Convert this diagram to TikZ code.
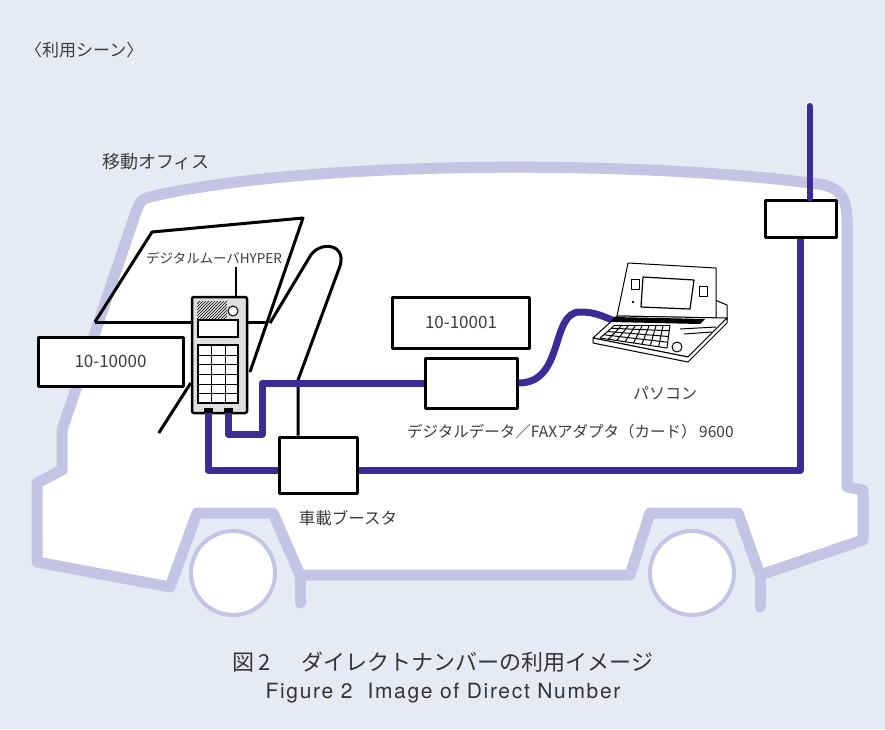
\documentclass[tikz,border=0pt]{standalone}
\usepackage{fontspec}
\setmainfont{Noto Sans CJK JP}
\newfontfamily\heros[LetterSpace=8]{TeX Gyre Heros}
\usetikzlibrary{positioning,patterns}

\definecolor{paper}{RGB}{231,233,245}
\definecolor{vanline}{RGB}{198,196,228}
\definecolor{cablecol}{RGB}{59,44,152}
\definecolor{ink}{RGB}{60,60,60}

\tikzset{
  van/.style={draw=vanline, line width=11pt, line join=round, line cap=round},
  cable/.style={draw=cablecol, line width=7pt, line join=round},
  frame/.style={draw=black, line width=3pt, line join=round},
  unit/.style={frame, fill=white, inner sep=0pt},
  jack/.style={fill=black, minimum width=9pt, minimum height=5pt, inner sep=0pt},
  lbl/.style={text=ink, inner sep=0pt},
}

\begin{document}
\begin{tikzpicture}[x=1pt,y=-1pt]
  \fill[paper] (0,0) rectangle (885,729);
  \useasboundingbox (0,0) rectangle (885,729);

  % van body
  \path[van, fill=white] (62,430) -- (136,212) .. controls (141,199) .. (158,195)
     .. controls (320,160) and (640,160) .. (818,184)
     .. controls (842,187) and (847,200) .. (847,222)
     -- (847,487) -- (863,490) -- (863,540) -- (760,575) -- (738,513) -- (650,513) -- (630,575)
     -- (300,575) -- (273,513) -- (197,513) -- (170,587) -- (37,562) -- (37,483) -- (62,470) -- cycle;
  \draw[van] (300,575) -- (300,603);
  \draw[van] (760,575) -- (760,607);
  \draw[draw=vanline, line width=4pt, fill=white] (233,573) circle[radius=42];
  \draw[draw=vanline, line width=4pt, fill=white] (692,573) circle[radius=42];

  % units
  \node[unit, minimum width=145pt, minimum height=49pt, font=\fontsize{17}{20}\selectfont, text=ink] (num1) at (110.5,361.5) {10-10000};
  \node[unit, minimum width=137pt, minimum height=51pt, font=\fontsize{17}{20}\selectfont, text=ink] (num2) at (461,322.5) {10-10001};
  \node[unit, minimum width=92pt, minimum height=50pt] (adapter) at (471,383) {};
  \node[unit, minimum width=78pt, minimum height=56pt] (booster) at (318,465) {};
  \node[unit, minimum width=71pt, minimum height=37pt] (antbox) at (800.5,218.5) {};
  \coordinate (anttip) at (809.5,106);
  \coordinate (bend) at (262,434);
  \coordinate (lapjack) at (618,322);

  % dashboard and seat
  \draw[frame] (95,322) -- (152,232) -- (303,218) -- (250,372);
  \draw[frame] (95,322) -- (268,322);
  \draw[frame] (270,323) -- (309,258) .. controls (318,240) and (347,243) .. (340,266)
     -- (298,380) -- ([xshift=-20pt]booster.north);

  % mover
  \node[draw, line width=2.5pt, fill=gray!25, rounded corners=2pt, minimum width=55pt, minimum height=116pt] (mover) at (219.5,355) {};
  \draw[line width=2pt] ([xshift=16.5pt]mover.north) -- ++(0,-29);
  \fill[pattern=north east lines] (197,301) rectangle (227,324);
  \draw[fill=white, line width=1pt] (233,311) circle[radius=5];
  \draw[fill=white, line width=1.2pt] (198,320) rectangle (238,337);
  \draw[fill=white, line width=1.2pt] (198,345) rectangle (238,403);
  \foreach \y in {354.7,364.3,374,383.7,393.3} \draw (198,\y) -- (238,\y);
  \foreach \x in {211.3,224.7} \draw (\x,345) -- (\x,403);
  \node[jack] (jackL) at (208,410) {};
  \node[jack] (jackR) at (228,410) {};
  \draw[frame] ([yshift=-28pt]mover.west) -- ++(-32,50);

  % cables
  \draw[cable] (jackR.south) |- (bend) |- (adapter.west);
  \draw[cable] (jackL.south) |- ([yshift=-5pt]booster.west);
  \draw[cable] ([yshift=-5pt]booster.east) -| (antbox.south);
  \draw[cable, line width=6pt, line cap=round] ([xshift=9pt]antbox.north) -- (anttip);
  \draw[cable] (adapter.east) .. controls (565,383) and (550,312) .. (580,312)
     .. controls (598,312) and (605,318) .. (lapjack);

  % pasokon
  \begin{scope}[line width=1pt, line join=round]
    \draw[fill=white] (715,300) -- (727,305) -- (727,320) -- (716,322) -- cycle;
    \draw[fill=white] (628,263) -- (716,268) -- (716,318) -- (617,316) -- cycle;
    \draw[fill=white, line width=1.2pt] (643,277) -- (694,280) -- (690,309) -- (641,307) -- cycle;
    \draw (631,279) rectangle (639,289);
    \draw (699,286) rectangle (707,296);
    \fill (633,302) circle[radius=1.3];
    \draw[fill=white] (593,338) -- (617,316) -- (727,318) -- (688,357) -- cycle;
    \draw[fill=white] (593,338) -- (593,343) -- (688,362) -- (727,323) -- (727,318) -- (688,357) -- cycle;
    \fill (614,317) -- (705,319) -- (700,324) -- (611,322) -- cycle;
    \foreach \t in {0,0.25,0.5,0.75,1}
      \draw ({615-15*\t},{325+13*\t}) -- ({670-3*\t},{325+23*\t});
    \foreach \s in {0,0.125,...,1}
      \draw ({615+55*\s},325) -- ({600+67*\s},{338+10*\s});
    \draw (677,347) circle[radius=5];
    \draw (680,329) -- (716,327);
    \draw (684,334) -- (712,332);
  \end{scope}

  % labels
  \node[lbl, anchor=west, font=\fontsize{17}{20}\selectfont] (scene) at (25,50) {〈利用シーン〉};
  \node[lbl, anchor=west, font=\fontsize{18}{21}\selectfont] (office) at (102,162) {移動オフィス};
  \node[lbl, font=\fontsize{13.5}{16}\selectfont] (movername) at (214,258) {デジタルムーバHYPER};
  \node[lbl, font=\fontsize{16}{19}\selectfont] (pclabel) at (665,393) {パソコン};
  \node[lbl, anchor=west, font=\fontsize{15.5}{18}\selectfont] (adlabel) at (407,432) {デジタルデータ／FAXアダプタ（カード）\,9600};
  \node[lbl, font=\fontsize{16.5}{19}\selectfont] (boostlabel) at (348,518) {車載ブースタ};
  \node[text=black!80, inner sep=0pt, font=\fontsize{22}{26}\selectfont] (cap1) at (443,662) {図\,2\hspace{1.4em}ダイレクトナンバーの利用イメージ};
  \node[text=black!80, inner sep=0pt, font=\heros\fontsize{21}{24}\selectfont, below=10pt of cap1] (cap2) {Figure 2\ \ Image of Direct Number};
\end{tikzpicture}
\end{document}
